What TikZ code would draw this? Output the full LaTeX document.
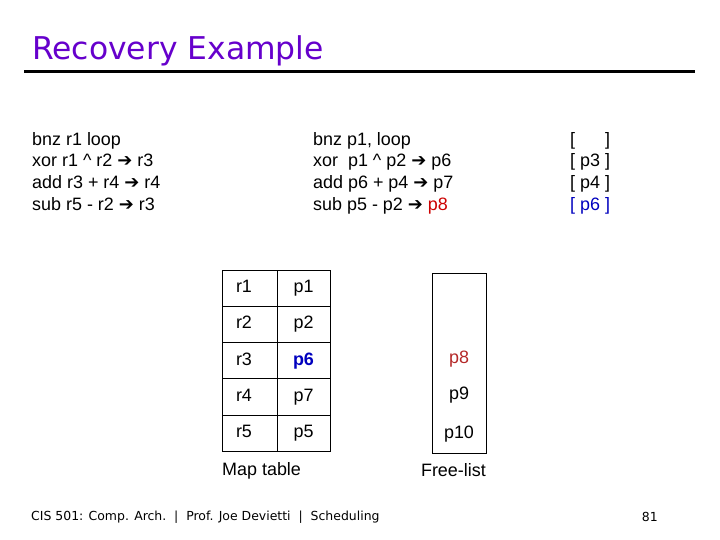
\documentclass[tikz,border=0pt]{standalone}
\usepackage{fontspec}
\setmainfont{Liberation Sans}
\newfontfamily\titlefont{DejaVu Sans}
\newfontfamily\footfont{DejaVu Sans}
\newfontfamily\arrowfont{DejaVu Sans}
\usetikzlibrary{positioning}

\definecolor{titlepurple}{RGB}{102,0,204}
\definecolor{destred}{RGB}{204,0,0}
\definecolor{freered}{RGB}{180,40,40}
\definecolor{mapblue}{RGB}{0,0,190}
\newcommand{\toarrow}{{\arrowfont\fontsize{18}{18}\selectfont ➔}}

\begin{document}
\begin{tikzpicture}[
    x=1bp, y=-1bp,
    every node/.style={font=\fontsize{18}{21.7}\selectfont, inner sep=0pt},
    code/.style={align=left, anchor=north west},
    cell/.style={draw, outer sep=0pt, minimum height=36.2bp,
                 text height=13bp, text depth=4bp},
    rcell/.style={cell, anchor=north west, text width=27bp, inner xsep=14bp, align=left},
    pcell/.style={cell, text width=53bp, inner xsep=0pt, align=center},
    freeslot/.style={anchor=center, text height=13bp, text depth=4bp},
]
    \useasboundingbox (0,0) rectangle (720,540);

    % Title and rule
    \node[anchor=base west, font=\titlefont\fontsize{31.5}{31.5}\selectfont,
          text=titlepurple] (title) at (32,60) {Recovery Example};
    \coordinate (ruleL) at (24,72);
    \coordinate (ruleR) at (695,72);
    \draw[line width=3bp] (ruleL) -- (ruleR);

    % Code: architectural, renamed, overwritten regs
    \node[code] (archcode) at (32,132)
        {bnz r1 loop\\ xor r1 \^{} r2 \toarrow{} r3\\
         add r3 + r4 \toarrow{} r4\\ sub r5 - r2 \toarrow{} r3};
    \node[code] (physcode) at (313,132)
        {bnz p1, loop\\ xor\ \ p1 \^{} p2 \toarrow{} p6\\
         add p6 + p4 \toarrow{} p7\\ sub p5 - p2 \toarrow{} \textcolor{destred}{p8}};
    \node[code] (oldregs) at (570,132)
        {{[} \phantom{p3} ]\\ {[} p3 ]\\ {[} p4 ]\\ \textcolor{mapblue}{[ p6 ]}};

    % Map table
    \node[rcell] (r1) at (222,270) {r1};
    \node[rcell, below=0pt of r1] (r2) {r2};
    \node[rcell, below=0pt of r2] (r3) {r3};
    \node[rcell, below=0pt of r3] (r4) {r4};
    \node[rcell, below=0pt of r4] (r5) {r5};
    \node[pcell, right=0pt of r1] (p1) {p1};
    \node[pcell, right=0pt of r2] (p2) {p2};
    \node[pcell, right=0pt of r3] (p6) {\textcolor{mapblue}{\bfseries p6}};
    \node[pcell, right=0pt of r4] (p7) {p7};
    \node[pcell, right=0pt of r5] (p5) {p5};

    % Free-list
    \node[draw, minimum width=54bp, minimum height=180bp] (freelist) at (459,363) {};
    \node[freeslot, text=freered] (f8) at (459,359) {p8};
    \node[freeslot] (f9) at (459,395) {p9};
    \node[freeslot] (f10) at (459,434) {p10};

    % Labels
    \node[anchor=west] (maplabel) at (222,471) {Map table};
    \node[anchor=east] (freelabel) at (486,470) {Free-list};

    % Footer
    \node[anchor=west, font=\footfont\fontsize{12.5}{12.5}\selectfont] (footer) at (31,517)
        {CIS 501: Comp. Arch.\ \ |\ \ Prof. Joe Devietti\ \ |\ \ Scheduling};
    \node[anchor=east, font=\footfont\fontsize{12.5}{12.5}\selectfont] (pagenum) at (658,517) {81};
\end{tikzpicture}
\end{document}
